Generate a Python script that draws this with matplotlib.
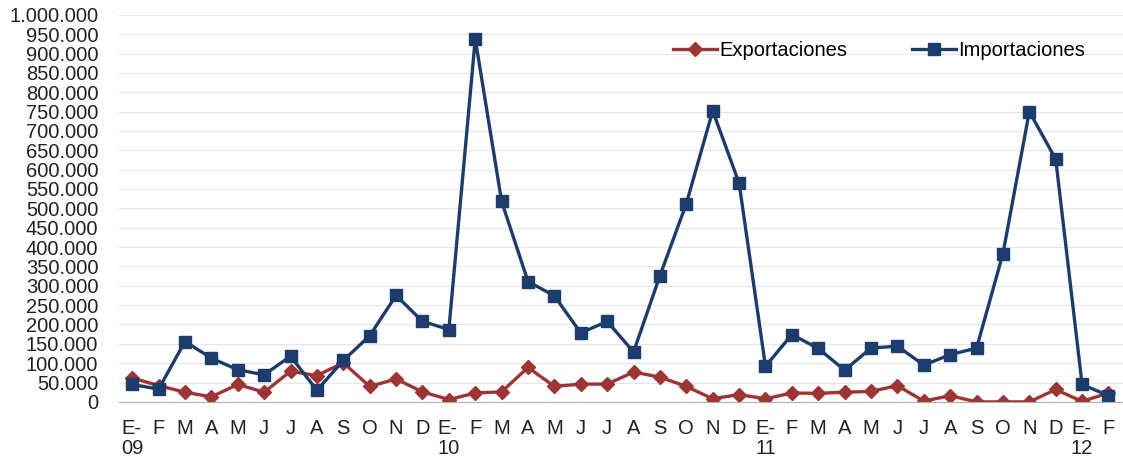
# plot.py
# Exportaciones vs Importaciones, monthly E-09 .. F-12
import matplotlib
matplotlib.use("Agg")
import matplotlib.pyplot as plt
from matplotlib.ticker import FuncFormatter, MultipleLocator

plt.rcParams['font.family'] = ['Liberation Sans', 'DejaVu Sans']

# tick labels (Spanish month initials, year under January)
months = ["E-\n09", "F", "M", "A", "M", "J", "J", "A", "S", "O", "N", "D",
          "E-\n10", "F", "M", "A", "M", "J", "J", "A", "S", "O", "N", "D",
          "E-\n11", "F", "M", "A", "M", "J", "J", "A", "S", "O", "N", "D",
          "E-\n12", "F"]

exportaciones = [62000, 42000, 25000, 13000, 45000, 25000, 79000, 68000, 101000, 40000, 59000, 26000,
                 6000, 23000, 26000, 89000, 40000, 46000, 46000, 77000, 64000, 40000, 8000, 19000,
                 8000, 23000, 22000, 25000, 27000, 42000, 2000, 16000, 0, 0, 0, 32000,
                 1000, 23000]

importaciones = [45000, 33000, 156000, 113000, 83000, 70000, 118000, 30000, 107000, 171000, 275000, 208000,
                 187000, 938000, 518000, 311000, 274000, 178000, 208000, 129000, 326000, 512000, 752000, 565000,
                 92000, 174000, 138000, 82000, 139000, 144000, 95000, 122000, 139000, 383000, 750000, 627000,
                 45000, 16000]

red = "#9E3535"
navy = "#1C3D6B"

fig = plt.figure(figsize=(11.23, 4.63), dpi=100)
ax = fig.add_axes([0.106, 0.132, 0.894, 0.836])

x = list(range(len(months)))
ax.plot(x, exportaciones, color=red, lw=2.4, marker="D", ms=7.5, label="Exportaciones")
ax.plot(x, importaciones, color=navy, lw=2.4, marker="s", ms=8, label="Importaciones")

ax.set_ylim(0, 1000000)
ax.set_xlim(-0.5, len(months) - 0.45)
ax.yaxis.set_major_locator(MultipleLocator(50000))
ax.yaxis.set_major_formatter(FuncFormatter(lambda v, p: f"{int(v):,}".replace(",", ".")))
ax.set_xticks(x)
ax.set_xticklabels(months, multialignment="left", va="top", linespacing=1.1)

ax.grid(axis="y", color="#e6e6e6", lw=0.8)
ax.set_axisbelow(True)
for s in ["top", "right", "left"]:
    ax.spines[s].set_visible(False)
ax.spines["bottom"].set_color("#b0b0b0")
ax.tick_params(axis="both", length=0, labelsize=14.5, colors="#222222")
ax.tick_params(axis="y", pad=15)
ax.tick_params(axis="x", pad=12)

ax.legend(loc="upper right", ncol=2, frameon=False, fontsize=14.5, bbox_to_anchor=(0.98, 0.98),
          handlelength=2.2, columnspacing=3.2, handletextpad=0.1)

fig.savefig("out.png", dpi=100)
